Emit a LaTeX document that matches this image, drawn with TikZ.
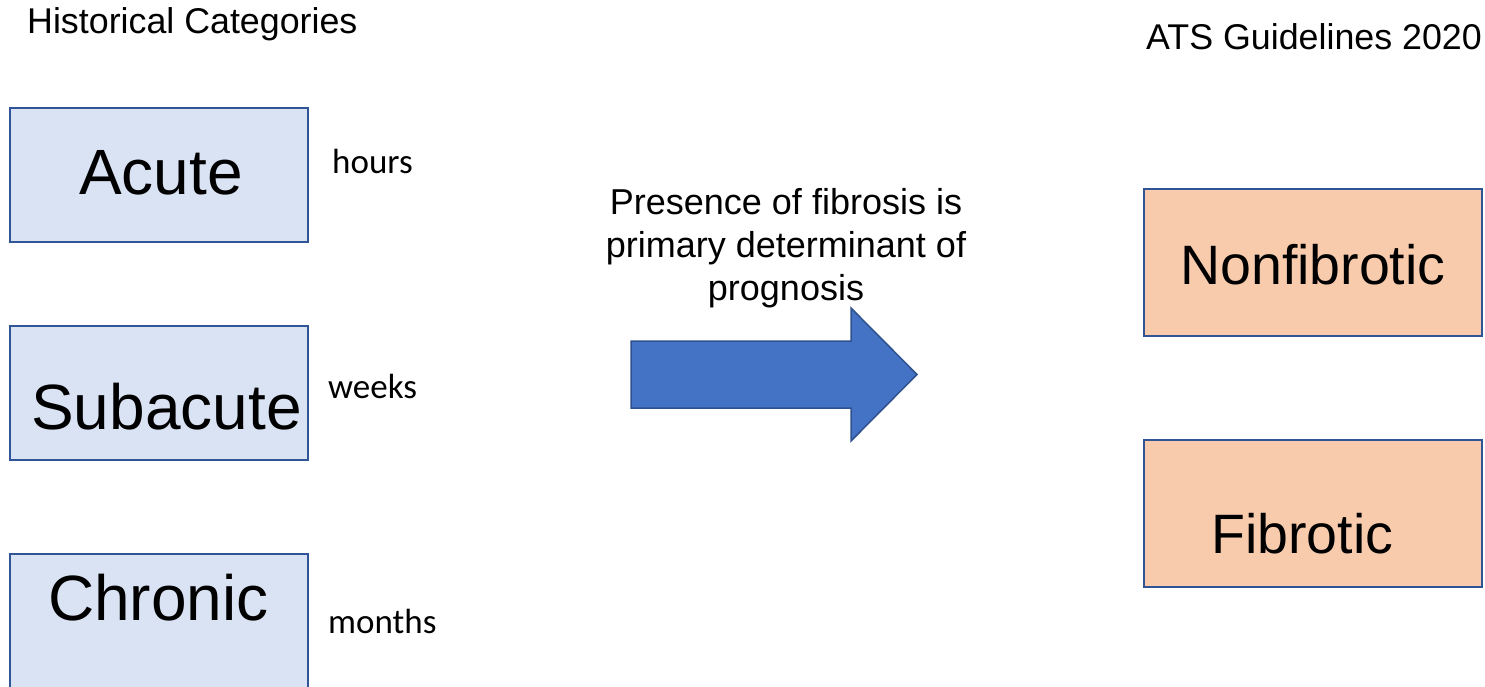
\documentclass[tikz,border=0pt]{standalone}
\usepackage{fontspec}
\setmainfont{Liberation Sans}
\newfontfamily\calib{Carlito}
\definecolor{bluefill}{HTML}{DAE3F3}
\definecolor{boxedge}{HTML}{2F5597}
\definecolor{orangefill}{HTML}{F8CBAD}
\definecolor{arrowfill}{HTML}{4472C4}
\definecolor{arrowedge}{HTML}{2F528F}
\tikzset{
  histbox/.style={draw=boxedge, fill=bluefill, line width=2pt},
  atsbox/.style={draw=boxedge, fill=orangefill, line width=2pt},
  bigtxt/.style={anchor=base west, inner sep=0pt, font=\fontsize{64}{76}\selectfont},
  midtxt/.style={anchor=base west, inner sep=0pt, font=\fontsize{55.5}{66}\selectfont},
  smalltxt/.style={anchor=base west, inner sep=0pt, font=\calib\fontsize{35}{42}\selectfont},
  titletxt/.style={anchor=base west, inner sep=0pt, font=\fontsize{35.8}{43}\selectfont},
}
\begin{document}
\begin{tikzpicture}[x=1pt,y=-1pt]
\useasboundingbox (0,0) rectangle (1485,687);
\clip (0,0) rectangle (1485,687);
% titles
\node[titletxt] (hist) at (27,34) {Historical Categories};
\node[titletxt] (ats) at (1146,50) {ATS Guidelines 2020};
% historical boxes
\draw[histbox] (10,108) rectangle (308,242);
\node[bigtxt] (acute) at (79,194) {Acute};
\draw[histbox] (10,326) rectangle (308,460);
\node[bigtxt] (subacute) at (31,429) {Subacute};
\draw[histbox] (10,554) rectangle (308,720);
\node[bigtxt] (chronic) at (48,620) {Chronic};
% time labels
\node[smalltxt] (hours) at (332,174) {hours};
\node[smalltxt] (weeks) at (328,398) {weeks};
\node[smalltxt] (months) at (328,633) {months};
% ATS boxes
\draw[atsbox] (1144,189) rectangle (1482,336);
\node[midtxt] (nonfib) at (1180,284) {Nonfibrotic};
\draw[atsbox] (1144,440) rectangle (1482,587);
\node[midtxt] (fib) at (1211,553) {Fibrotic};
% arrow
\draw[draw=arrowedge, fill=arrowfill, line width=1.5pt, line join=miter]
  (631,341) -- (851,341) -- (851,308) -- (917,374.5) -- (851,441) -- (851,408) -- (631,408) -- cycle;
\node[anchor=base, inner sep=0pt, align=center, font=\fontsize{36}{43}\selectfont] (note) at (786,300)
  {Presence of fibrosis is\\primary determinant of\\prognosis};
\end{tikzpicture}
\end{document}
